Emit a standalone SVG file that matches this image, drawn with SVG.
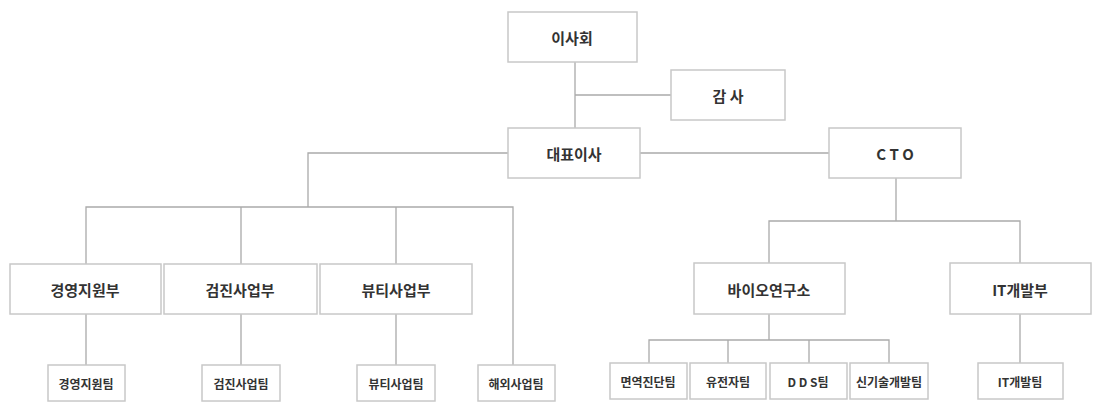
<svg xmlns="http://www.w3.org/2000/svg" width="1101" height="415" viewBox="0 0 1101 415">
<style>
rect{fill:#fff;stroke:#c8c8c8;stroke-width:1.5}
text{font-family:"Noto Sans CJK KR","Noto Sans",sans-serif;font-weight:bold;fill:#333;text-anchor:middle;dominant-baseline:central}
.b{font-size:15px}.s{font-size:12px}
#c path{fill:none;stroke:#aaa;stroke-width:1.3}
</style>
<rect x="0" y="0" width="1101" height="415" style="stroke:none"/>
<g id="c">
<path d="M575 62V128M575 95H671M508 153H308V207M640 153H829M86 264V207H513V365M241 207V264M396 207V264"/>
<path d="M86 314V365M241 314V365M396 314V365"/>
<path d="M896 178V221M769 263V221H1020V263M769 314V340M649 363V340H889V363M728 340V363M809 340V363M1020 314V363"/>
</g>
<g id="n1"><rect x="508" y="12" width="129" height="50"/><text class="b" x="572" y="37">이사회</text></g>
<g id="n2"><rect x="671" y="70" width="114" height="50"/><text class="b" x="728" y="95">감 사</text></g>
<g id="n3"><rect x="508" y="128" width="132" height="50"/><text class="b" x="574" y="153">대표이사</text></g>
<g id="n4"><rect x="829" y="128" width="132" height="50"/><text class="b" x="895" y="153">C T O</text></g>
<g id="n5"><rect x="10" y="264" width="151" height="50"/><text class="b" x="85" y="289">경영지원부</text></g>
<g id="n6"><rect x="164" y="264" width="153" height="50"/><text class="b" x="240" y="289">검진사업부</text></g>
<g id="n7"><rect x="320" y="264" width="152" height="50"/><text class="b" x="396" y="289">뷰티사업부</text></g>
<g id="n8"><rect x="48" y="365" width="77" height="36"/><text class="s" x="86" y="383">경영지원팀</text></g>
<g id="n9"><rect x="202" y="365" width="78" height="36"/><text class="s" x="241" y="383">검진사업팀</text></g>
<g id="n10"><rect x="357" y="365" width="78" height="36"/><text class="s" x="396" y="383">뷰티사업팀</text></g>
<g id="n11"><rect x="478" y="365" width="77" height="36"/><text class="s" x="516" y="383">해외사업팀</text></g>
<g id="n12"><rect x="694" y="263" width="151" height="51"/><text class="b" x="769" y="289">바이오연구소</text></g>
<g id="n13"><rect x="950" y="263" width="141" height="51"/><text class="b" x="1020" y="289">IT개발부</text></g>
<g id="n14"><rect x="610" y="363" width="77" height="36"/><text class="s" x="648" y="381">면역진단팀</text></g>
<g id="n15"><rect x="690" y="363" width="76" height="36"/><text class="s" x="728" y="381">유전자팀</text></g>
<g id="n16"><rect x="770" y="363" width="77" height="36"/><text class="s" x="808" y="381">D D S팀</text></g>
<g id="n17"><rect x="850" y="363" width="78" height="36"/><text class="s" x="889" y="381">신기술개발팀</text></g>
<g id="n18"><rect x="978" y="363" width="85" height="36"/><text class="s" x="1020" y="381">IT개발팀</text></g>
</svg>
